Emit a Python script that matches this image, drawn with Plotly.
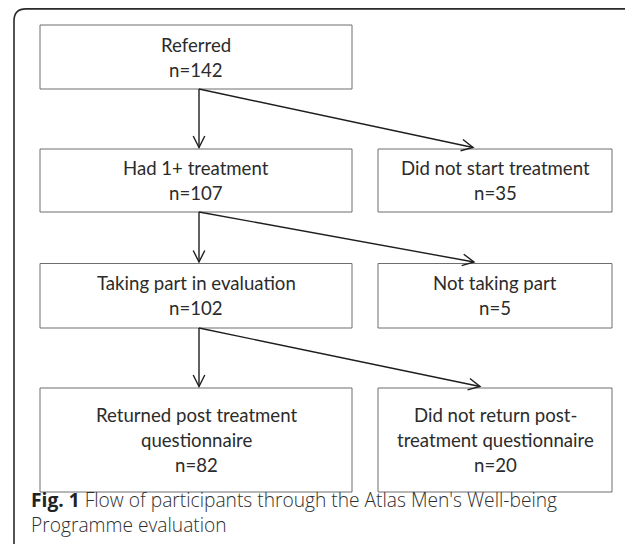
import math
import plotly.graph_objects as go

# ---- data ----
stage_labels = ["Referred", "Had 1+ treatment", "Taking part in evaluation",
                "Returned post treatment|questionnaire"]
stage_counts = [142, 107, 102, 82]
excluded_labels = ["Did not start treatment", "Not taking part",
                   "Did not return post-|treatment questionnaire"]
excluded_counts = [35, 5, 20]
caption_bold = "Fig. 1"
caption_lines = ["Flow of participants through the Atlas Men's Well-being",
                 "Programme evaluation"]

# ---- layout geometry (page pixels) ----
W, H = 633, 544
OFF = 8  # page body margin: figure starts at (8, 8)
row_tops = [25, 149, 263.5, 388]
row_bottoms = [89, 212, 328, 492]
left_x = (40, 352)
right_x = (378, 612)
trunk_x = 199
diag_tip_x = [473, 474, 480]
LINE_GAP = 25

BOX_FONT = dict(family="Lato, 'Open Sans', sans-serif", size=18.6, color="#2b2b2b")
CAP_FONT = dict(family="'Open Sans', Lato, sans-serif", size=19.2, color="#2e2e2e", weight=300)

shapes = []
annotations = []

def box(x0, x1, y0, y1):
    shapes.append(dict(type="rect", xref="x", yref="y", x0=x0, x1=x1, y0=y0, y1=y1,
                       line=dict(color="#6e6e6e", width=1), fillcolor="rgba(0,0,0,0)", layer="above"))

def text_block(cx, y0, y1, lines):
    cy = (y0 + y1) / 2
    n = len(lines)
    for i, ln in enumerate(lines):
        yy = cy + (i - (n - 1) / 2) * LINE_GAP
        annotations.append(dict(x=cx, y=yy, xref="x", yref="y", text=ln, showarrow=False,
                                xanchor="center", yanchor="middle", font=BOX_FONT))

def arrow(x0, y0, x1, y1):
    shapes.append(dict(type="line", xref="x", yref="y", x0=x0, y0=y0, x1=x1, y1=y1,
                       line=dict(color="#1e1e1e", width=1.4)))
    ang = math.atan2(y1 - y0, x1 - x0)
    L, hw = 11.5, 5.8
    bx, by = x1 - L * math.cos(ang), y1 - L * math.sin(ang)
    px, py = -math.sin(ang), math.cos(ang)
    path = (f"M{bx + hw*px},{by + hw*py} L{x1},{y1} L{bx - hw*px},{by - hw*py}")
    shapes.append(dict(type="path", xref="x", yref="y", path=path,
                       line=dict(color="#1e1e1e", width=1.4)))

# outer rounded frame
r = 12
fx0, fy0, fx1, fy1 = 14, 8.9, 645, 556
frame = (f"M{fx0+r},{fy0} L{fx1-r},{fy0} Q{fx1},{fy0} {fx1},{fy0+r} L{fx1},{fy1-r} "
         f"Q{fx1},{fy1} {fx1-r},{fy1} L{fx0+r},{fy1} Q{fx0},{fy1} {fx0},{fy1-r} "
         f"L{fx0},{fy0+r} Q{fx0},{fy0} {fx0+r},{fy0} Z")
shapes.append(dict(type="path", xref="x", yref="y", path=frame,
                   line=dict(color="#2a2a2a", width=1.6)))

for i, (lab, cnt) in enumerate(zip(stage_labels, stage_counts)):
    y0, y1 = row_tops[i], row_bottoms[i]
    box(left_x[0], left_x[1], y0, y1)
    text_block((left_x[0] + left_x[1]) / 2, y0, y1, lab.split("|") + [f"n={cnt}"])

for i, (lab, cnt) in enumerate(zip(excluded_labels, excluded_counts)):
    y0, y1 = row_tops[i + 1], row_bottoms[i + 1]
    box(right_x[0], right_x[1], y0, y1)
    text_block((right_x[0] + right_x[1]) / 2, y0, y1, lab.split("|") + [f"n={cnt}"])

for i in range(3):
    ys = row_bottoms[i]
    yt = row_tops[i + 1] - 1.5
    arrow(trunk_x, ys, trunk_x, yt)
    arrow(trunk_x, ys, diag_tip_x[i], yt)

annotations.append(dict(x=29, y=499, xref="x", yref="y", showarrow=False,
                        xanchor="left", yanchor="middle",
                        text=f"<span style='font-weight:700;color:#222'>{caption_bold}</span> {caption_lines[0]}",
                        font=CAP_FONT))
annotations.append(dict(x=29, y=524, xref="x", yref="y", showarrow=False,
                        xanchor="left", yanchor="middle",
                        text=caption_lines[1], font=CAP_FONT))

fig = go.Figure()
fig.update_layout(
    width=W - OFF, height=H - OFF, margin=dict(l=0, r=0, t=0, b=0),
    paper_bgcolor="white", plot_bgcolor="white",
    xaxis=dict(range=[OFF, W], visible=False, fixedrange=True),
    yaxis=dict(range=[H, OFF], visible=False, fixedrange=True),
    shapes=shapes, annotations=annotations, showlegend=False,
)
fig.write_html("out.html")
